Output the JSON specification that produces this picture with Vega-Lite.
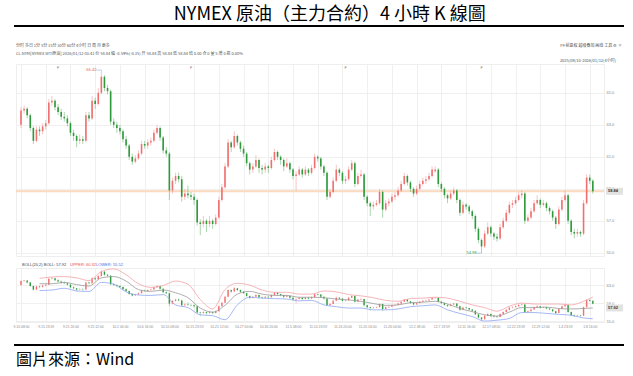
{
"$schema": "https://vega.github.io/schema/vega-lite/v6.json",
"background": "white",
"padding": {"left": 12, "top": 6, "right": 0, "bottom": 6},
"title": {"text": "NYMEX 原油（主力合約）4 小時 K 線圖", "font": "Noto Sans CJK TC", "fontSize": 18, "fontWeight": "normal", "color": "#000000", "anchor": "middle", "offset": 1, "dx": 10},
"spacing": 12,
"bounds": "flush",
"datasets": {
"k": [
{"i":0,"o":63.0,"h":64.1,"l":62.8,"c":63.9},{"i":1,"o":63.9,"h":64.2,"l":63.7,"c":64.0},{"i":2,"o":64.0,"h":64.1,"l":63.4,"c":63.6},{"i":3,"o":63.6,"h":63.7,"l":62.6,"c":62.8},{"i":4,"o":62.8,"h":62.9,"l":61.8,"c":62.0},{"i":5,"o":62.0,"h":62.9,"l":61.9,"c":62.7},{"i":6,"o":62.7,"h":62.9,"l":62.3,"c":62.6},{"i":7,"o":62.6,"h":63.1,"l":62.4,"c":62.9},{"i":8,"o":62.9,"h":63.3,"l":62.7,"c":63.1},{"i":9,"o":63.1,"h":64.6,"l":63.0,"c":64.4},
{"i":10,"o":64.4,"h":64.8,"l":64.2,"c":64.5},{"i":11,"o":64.5,"h":64.6,"l":63.9,"c":64.1},{"i":12,"o":64.1,"h":64.3,"l":63.6,"c":63.8},{"i":13,"o":63.8,"h":64.0,"l":63.3,"c":63.5},{"i":14,"o":63.5,"h":63.8,"l":63.2,"c":63.4},{"i":15,"o":63.4,"h":63.6,"l":62.9,"c":63.1},{"i":16,"o":63.1,"h":63.2,"l":62.3,"c":62.5},{"i":17,"o":62.5,"h":62.7,"l":62.0,"c":62.3},{"i":18,"o":62.3,"h":62.4,"l":61.6,"c":62.0},{"i":19,"o":62.0,"h":62.4,"l":61.8,"c":62.1},
{"i":20,"o":62.1,"h":62.3,"l":61.8,"c":62.0},{"i":21,"o":62.0,"h":63.8,"l":61.9,"c":63.6},{"i":22,"o":63.6,"h":63.8,"l":63.2,"c":63.4},{"i":23,"o":63.4,"h":64.8,"l":63.3,"c":64.5},{"i":24,"o":64.5,"h":64.7,"l":64.0,"c":64.3},{"i":25,"o":64.3,"h":65.3,"l":64.2,"c":65.0},{"i":26,"o":65.0,"h":66.42,"l":64.9,"c":66.0},{"i":27,"o":66.0,"h":66.1,"l":65.1,"c":65.3},{"i":28,"o":65.3,"h":65.5,"l":64.9,"c":65.1},{"i":29,"o":65.1,"h":65.2,"l":63.0,"c":63.2},
{"i":30,"o":63.2,"h":63.4,"l":62.8,"c":63.0},{"i":31,"o":63.0,"h":63.2,"l":62.5,"c":62.8},{"i":32,"o":62.8,"h":63.0,"l":62.4,"c":62.6},{"i":33,"o":62.6,"h":62.7,"l":61.9,"c":62.1},{"i":34,"o":62.1,"h":62.3,"l":61.5,"c":61.7},{"i":35,"o":61.7,"h":61.8,"l":60.8,"c":61.0},{"i":36,"o":61.0,"h":61.2,"l":60.5,"c":60.7},{"i":37,"o":60.7,"h":61.1,"l":60.6,"c":60.9},{"i":38,"o":60.9,"h":61.4,"l":60.8,"c":61.2},{"i":39,"o":61.2,"h":62.0,"l":61.1,"c":61.8},
{"i":40,"o":61.8,"h":62.0,"l":61.5,"c":61.7},{"i":41,"o":61.7,"h":62.1,"l":61.5,"c":61.9},{"i":42,"o":61.9,"h":62.2,"l":61.7,"c":62.0},{"i":43,"o":62.0,"h":62.7,"l":61.9,"c":62.5},{"i":44,"o":62.5,"h":63.0,"l":62.4,"c":62.8},{"i":45,"o":62.8,"h":62.9,"l":62.0,"c":62.2},{"i":46,"o":62.2,"h":62.3,"l":61.2,"c":61.4},{"i":47,"o":61.4,"h":61.6,"l":61.0,"c":61.2},{"i":48,"o":61.2,"h":61.3,"l":58.3,"c":58.9},{"i":49,"o":58.9,"h":59.7,"l":58.7,"c":59.5},
{"i":50,"o":59.5,"h":60.0,"l":59.3,"c":59.8},{"i":51,"o":59.8,"h":60.0,"l":59.4,"c":59.6},{"i":52,"o":59.6,"h":59.8,"l":58.2,"c":58.5},{"i":53,"o":58.5,"h":59.0,"l":58.3,"c":58.7},{"i":54,"o":58.7,"h":59.2,"l":58.4,"c":58.6},{"i":55,"o":58.6,"h":58.8,"l":58.3,"c":58.5},{"i":56,"o":58.5,"h":58.7,"l":58.0,"c":58.3},{"i":57,"o":58.3,"h":58.4,"l":56.7,"c":56.9},{"i":58,"o":56.9,"h":57.1,"l":56.1,"c":56.8},{"i":59,"o":56.8,"h":57.3,"l":56.6,"c":57.0},
{"i":60,"o":57.0,"h":57.1,"l":56.3,"c":56.8},{"i":61,"o":56.8,"h":57.3,"l":56.6,"c":57.0},{"i":62,"o":57.0,"h":57.1,"l":56.5,"c":56.8},{"i":63,"o":56.8,"h":57.4,"l":56.7,"c":57.2},{"i":64,"o":57.2,"h":58.5,"l":57.1,"c":58.3},{"i":65,"o":58.3,"h":59.3,"l":58.2,"c":59.1},{"i":66,"o":59.1,"h":60.6,"l":59.0,"c":60.4},{"i":67,"o":60.4,"h":62.1,"l":60.3,"c":61.9},{"i":68,"o":61.9,"h":62.0,"l":61.3,"c":61.6},{"i":69,"o":61.6,"h":62.6,"l":61.5,"c":62.3},
{"i":70,"o":62.3,"h":62.4,"l":61.7,"c":61.9},{"i":71,"o":61.9,"h":62.0,"l":61.3,"c":61.5},{"i":72,"o":61.5,"h":61.7,"l":61.0,"c":61.2},{"i":73,"o":61.2,"h":61.3,"l":60.4,"c":60.6},{"i":74,"o":60.6,"h":60.7,"l":59.9,"c":60.2},{"i":75,"o":60.2,"h":60.6,"l":60.0,"c":60.4},{"i":76,"o":60.4,"h":61.1,"l":60.3,"c":60.8},{"i":77,"o":60.8,"h":60.9,"l":60.0,"c":60.3},{"i":78,"o":60.3,"h":60.5,"l":59.9,"c":60.2},{"i":79,"o":60.2,"h":60.6,"l":60.0,"c":60.4},
{"i":80,"o":60.4,"h":60.5,"l":60.0,"c":60.3},{"i":81,"o":60.3,"h":61.0,"l":60.2,"c":60.8},{"i":82,"o":60.8,"h":61.5,"l":60.7,"c":61.3},{"i":83,"o":61.3,"h":61.4,"l":60.8,"c":61.0},{"i":84,"o":61.0,"h":61.1,"l":60.5,"c":60.8},{"i":85,"o":60.8,"h":60.9,"l":60.1,"c":60.4},{"i":86,"o":60.4,"h":60.9,"l":60.3,"c":60.6},{"i":87,"o":60.6,"h":60.7,"l":60.0,"c":60.2},{"i":88,"o":60.2,"h":60.3,"l":59.6,"c":59.8},{"i":89,"o":59.8,"h":60.1,"l":58.9,"c":59.9},
{"i":90,"o":59.9,"h":60.4,"l":59.8,"c":60.2},{"i":91,"o":60.2,"h":60.3,"l":59.7,"c":59.9},{"i":92,"o":59.9,"h":60.4,"l":59.8,"c":60.2},{"i":93,"o":60.2,"h":60.3,"l":59.8,"c":60.0},{"i":94,"o":60.0,"h":60.5,"l":59.9,"c":60.3},{"i":95,"o":60.3,"h":61.2,"l":60.2,"c":61.0},{"i":96,"o":61.0,"h":61.1,"l":60.7,"c":60.9},{"i":97,"o":60.9,"h":61.0,"l":60.2,"c":60.4},{"i":98,"o":60.4,"h":60.5,"l":59.8,"c":60.0},{"i":99,"o":60.0,"h":60.1,"l":58.3,"c":58.5},
{"i":100,"o":58.5,"h":59.0,"l":58.4,"c":58.8},{"i":101,"o":58.8,"h":59.7,"l":58.7,"c":59.5},{"i":102,"o":59.5,"h":60.5,"l":59.4,"c":60.2},{"i":103,"o":60.2,"h":60.3,"l":59.8,"c":60.0},{"i":104,"o":60.0,"h":60.1,"l":59.3,"c":59.5},{"i":105,"o":59.5,"h":59.8,"l":59.3,"c":59.6},{"i":106,"o":59.6,"h":60.4,"l":59.5,"c":60.2},{"i":107,"o":60.2,"h":60.8,"l":60.1,"c":60.6},{"i":108,"o":60.6,"h":60.7,"l":59.1,"c":59.3},{"i":109,"o":59.3,"h":60.0,"l":59.2,"c":59.8},
{"i":110,"o":59.8,"h":60.2,"l":59.7,"c":59.9},{"i":111,"o":59.9,"h":60.0,"l":58.3,"c":58.5},{"i":112,"o":58.5,"h":58.6,"l":57.9,"c":58.1},{"i":113,"o":58.1,"h":58.2,"l":57.3,"c":57.9},{"i":114,"o":57.9,"h":58.2,"l":57.7,"c":58.0},{"i":115,"o":58.0,"h":58.3,"l":57.9,"c":58.1},{"i":116,"o":58.1,"h":59.0,"l":58.0,"c":58.8},{"i":117,"o":58.8,"h":58.9,"l":57.2,"c":57.7},{"i":118,"o":57.7,"h":58.3,"l":57.6,"c":58.1},{"i":119,"o":58.1,"h":58.4,"l":57.9,"c":58.2},
{"i":120,"o":58.2,"h":58.7,"l":58.1,"c":58.5},{"i":121,"o":58.5,"h":58.8,"l":58.3,"c":58.6},{"i":122,"o":58.6,"h":59.1,"l":58.5,"c":58.9},{"i":123,"o":58.9,"h":59.5,"l":58.8,"c":59.3},{"i":124,"o":59.3,"h":60.0,"l":59.2,"c":59.8},{"i":125,"o":59.8,"h":59.9,"l":59.2,"c":59.4},{"i":126,"o":59.4,"h":59.5,"l":58.8,"c":59.0},{"i":127,"o":59.0,"h":59.1,"l":58.5,"c":58.7},{"i":128,"o":58.7,"h":59.2,"l":58.6,"c":59.0},{"i":129,"o":59.0,"h":59.5,"l":58.9,"c":59.3},
{"i":130,"o":59.3,"h":59.7,"l":59.2,"c":59.5},{"i":131,"o":59.5,"h":59.8,"l":59.3,"c":59.6},{"i":132,"o":59.6,"h":60.0,"l":59.5,"c":59.8},{"i":133,"o":59.8,"h":60.4,"l":59.7,"c":60.2},{"i":134,"o":60.1,"h":60.4,"l":60.0,"c":60.2},{"i":135,"o":60.2,"h":60.3,"l":59.1,"c":59.3},{"i":136,"o":59.3,"h":59.4,"l":58.8,"c":59.0},{"i":137,"o":59.0,"h":59.1,"l":58.4,"c":58.6},{"i":138,"o":58.6,"h":58.7,"l":58.1,"c":58.4},{"i":139,"o":58.4,"h":58.9,"l":58.3,"c":58.7},
{"i":140,"o":58.7,"h":59.1,"l":58.6,"c":58.9},{"i":141,"o":58.9,"h":59.0,"l":58.1,"c":58.3},{"i":142,"o":58.3,"h":58.4,"l":57.3,"c":57.5},{"i":143,"o":57.5,"h":58.2,"l":57.4,"c":58.0},{"i":144,"o":58.0,"h":58.1,"l":57.7,"c":57.9},{"i":145,"o":57.9,"h":58.0,"l":57.4,"c":57.6},{"i":146,"o":57.6,"h":57.7,"l":57.1,"c":57.3},{"i":147,"o":57.3,"h":57.4,"l":56.3,"c":56.5},{"i":148,"o":56.5,"h":56.6,"l":55.6,"c":55.8},{"i":149,"o":55.8,"h":55.9,"l":54.98,"c":55.4},
{"i":150,"o":55.4,"h":56.4,"l":55.3,"c":56.2},{"i":151,"o":56.2,"h":56.9,"l":56.1,"c":56.6},{"i":152,"o":56.6,"h":56.7,"l":56.0,"c":56.2},{"i":153,"o":56.2,"h":56.3,"l":55.8,"c":56.0},{"i":154,"o":56.0,"h":56.2,"l":55.7,"c":55.9},{"i":155,"o":55.9,"h":56.8,"l":55.8,"c":56.6},{"i":156,"o":56.6,"h":57.2,"l":56.5,"c":57.0},{"i":157,"o":57.0,"h":57.7,"l":56.9,"c":57.5},{"i":158,"o":57.5,"h":58.2,"l":57.4,"c":58.0},{"i":159,"o":58.0,"h":58.3,"l":57.8,"c":58.1},
{"i":160,"o":58.1,"h":58.5,"l":58.0,"c":58.3},{"i":161,"o":58.3,"h":58.8,"l":58.2,"c":58.6},{"i":162,"o":58.6,"h":58.9,"l":58.4,"c":58.7},{"i":163,"o":58.7,"h":58.8,"l":56.8,"c":57.0},{"i":164,"o":57.0,"h":57.4,"l":56.9,"c":57.2},{"i":165,"o":57.2,"h":57.8,"l":57.1,"c":57.6},{"i":166,"o":57.6,"h":58.3,"l":57.5,"c":58.1},{"i":167,"o":58.1,"h":58.6,"l":58.0,"c":58.3},{"i":168,"o":58.3,"h":58.4,"l":57.8,"c":58.0},{"i":169,"o":58.0,"h":58.3,"l":57.9,"c":58.1},
{"i":170,"o":58.1,"h":58.2,"l":57.6,"c":57.8},{"i":171,"o":57.8,"h":57.9,"l":57.4,"c":57.6},{"i":172,"o":57.6,"h":57.7,"l":57.0,"c":57.2},{"i":173,"o":57.2,"h":57.3,"l":56.5,"c":56.8},{"i":174,"o":56.8,"h":57.9,"l":56.7,"c":57.7},{"i":175,"o":57.7,"h":58.5,"l":57.6,"c":58.3},{"i":176,"o":58.3,"h":58.9,"l":58.2,"c":58.6},{"i":177,"o":58.6,"h":58.7,"l":56.8,"c":57.0},{"i":178,"o":57.0,"h":57.1,"l":56.1,"c":56.3},{"i":179,"o":56.3,"h":56.5,"l":55.9,"c":56.2},
{"i":180,"o":56.2,"h":56.5,"l":56.0,"c":56.3},{"i":181,"o":56.3,"h":56.4,"l":56.0,"c":56.2},{"i":182,"o":56.2,"h":58.3,"l":56.1,"c":58.1},{"i":183,"o":58.1,"h":59.9,"l":58.0,"c":59.7},{"i":184,"o":59.7,"h":59.9,"l":59.3,"c":59.5},{"i":185,"o":59.5,"h":59.6,"l":58.7,"c":58.84}
],
"boll": [
{"i":6,"u":64.5,"m":63.3,"lo":61.8},{"i":10,"u":64.8,"m":63.3,"lo":61.9},{"i":14,"u":64.9,"m":63.6,"lo":62.3},{"i":18,"u":64.6,"m":63.1,"lo":61.7},{"i":22,"u":64.0,"m":62.8,"lo":61.6},{"i":26,"u":66.0,"m":64.6,"lo":63.6},{"i":30,"u":66.6,"m":64.9,"lo":63.2},{"i":34,"u":65.3,"m":63.9,"lo":61.5},{"i":38,"u":63.3,"m":62.0,"lo":60.8},{"i":42,"u":62.5,"m":61.6,"lo":60.7},
{"i":46,"u":62.9,"m":61.9,"lo":60.9},{"i":50,"u":63.9,"m":61.3,"lo":58.6},{"i":54,"u":63.2,"m":60.2,"lo":58.0},{"i":58,"u":59.8,"m":57.9,"lo":56.4},{"i":62,"u":57.7,"m":57.0,"lo":56.2},{"i":66,"u":62.0,"m":58.5,"lo":55.3},{"i":70,"u":63.4,"m":61.0,"lo":58.6},{"i":74,"u":63.0,"m":61.6,"lo":60.3},{"i":78,"u":61.9,"m":61.0,"lo":60.1},{"i":82,"u":61.4,"m":60.7,"lo":60.0},
{"i":86,"u":61.4,"m":60.7,"lo":59.9},{"i":90,"u":61.0,"m":60.3,"lo":59.5},{"i":94,"u":61.0,"m":60.3,"lo":59.6},{"i":98,"u":61.7,"m":60.2,"lo":58.6},{"i":102,"u":61.5,"m":59.9,"lo":58.2},{"i":106,"u":60.9,"m":59.7,"lo":57.9},{"i":110,"u":60.6,"m":59.4,"lo":57.9},{"i":114,"u":60.2,"m":58.9,"lo":57.5},{"i":118,"u":59.6,"m":58.5,"lo":57.5},{"i":122,"u":59.4,"m":58.6,"lo":57.7},
{"i":126,"u":60.0,"m":59.1,"lo":58.2},{"i":130,"u":60.1,"m":59.2,"lo":58.4},{"i":134,"u":60.3,"m":59.4,"lo":58.6},{"i":138,"u":60.1,"m":58.8,"lo":57.5},{"i":142,"u":59.4,"m":57.8,"lo":56.7},{"i":146,"u":58.6,"m":57.1,"lo":56.0},{"i":150,"u":58.0,"m":56.4,"lo":55.0},{"i":154,"u":57.2,"m":56.1,"lo":55.2},{"i":158,"u":58.3,"m":57.0,"lo":55.6},{"i":162,"u":59.0,"m":58.0,"lo":56.9},
{"i":166,"u":58.8,"m":58.0,"lo":56.9},{"i":170,"u":58.8,"m":58.1,"lo":56.7},{"i":174,"u":58.8,"m":57.8,"lo":56.5},{"i":178,"u":58.6,"m":57.7,"lo":56.3},{"i":182,"u":59.4,"m":57.8,"lo":55.7},{"i":185,"u":60.32,"m":57.92,"lo":55.52}
],
"ext": [{"i":26,"v":66.42,"lbl":"66.42","hi":true},{"i":149,"v":54.98,"lbl":"54.98","hi":false}],
"flags": [{"i":12,"lbl":"F"},{"i":55,"lbl":"F"},{"i":105,"lbl":"F"},{"i":149,"lbl":"F"}],
"last": [{"p":58.84,"lbl":"58.84"}],
"lastb": [{"p":57.92,"lbl":"57.92"}]
},
"vconcat": [
{
"width": 588, "height": 26,
"layer": [
{"data": {"values": [{"t": ""}]}, "mark": {"type": "rule", "color": "#000000", "strokeWidth": 2}, "encoding": {"x": {"value": -2}, "x2": {"value": 608}, "y": {"value": 0}}},
{"data": {"values": [{"t": "分时   多日   1分   5分   15分   30分   60分   4小时   日   周   月   更多"}]}, "mark": {"type": "text", "x": 0, "y": 20, "align": "left", "baseline": "middle", "fontSize": 4, "color": "#555555", "font": "Noto Sans CJK SC"}, "encoding": {"text": {"field": "t"}}},
{"data": {"values": [{"t": "CL.NYM[NYMEX WTI原油]   2026/01/12 03:41   价 58.84   幅 -0.59%(-0.35)   开 58.84   高 58.84   低 58.84   结 0.00   仓 0   量 5   增 0   振 0.00%"}]}, "mark": {"type": "text", "x": 0, "y": 28, "align": "left", "baseline": "middle", "fontSize": 4, "color": "#555555", "font": "Noto Sans CJK SC"}, "encoding": {"text": {"field": "t"}}},
{"data": {"values": [{"t": "F9   前复权   超级叠加   画线   工具   ⚙   ×"}]}, "mark": {"type": "text", "x": 606, "y": 20, "align": "right", "baseline": "middle", "fontSize": 4, "color": "#555555", "font": "Noto Sans CJK SC"}, "encoding": {"text": {"field": "t"}}},
{"data": {"values": [{"t": "2025/09/10-2026/01/12(4小时)"}]}, "mark": {"type": "text", "x": 600, "y": 35, "align": "right", "baseline": "middle", "fontSize": 4, "color": "#555555", "font": "Noto Sans CJK SC"}, "encoding": {"text": {"field": "t"}}}
]
},
{
"width": 588, "height": 192,
"view": {"stroke": "#eeeeee"},
"layer": [
{"data": {"name": "last"}, "mark": {"type": "rule", "color": "#fbd9bd", "strokeWidth": 2},
 "encoding": {"y": {"field": "p", "type": "quantitative", "title": null, "scale": {"domain": [54.8, 66.8], "nice": false, "zero": false}, "axis": {"orient": "right", "values": [55, 57, 59, 61, 63, 65], "format": ".1f"}}}},
{"data": {"name": "k"}, "mark": {"type": "rule", "strokeWidth": 0.7, "opacity": 0.6},
 "encoding": {
  "x": {"field": "i", "type": "quantitative", "title": null, "scale": {"domain": [0, 187], "nice": false, "zero": false}, "axis": {"values": [0,8,16,24,32,40,48,56,64,72,80,88,96,104,112,120,128,136,144,152,160,168,176,184], "labels": false}},
  "y": {"field": "l", "type": "quantitative", "title": null, "scale": {"domain": [54.8, 66.8], "nice": false, "zero": false}, "axis": {"orient": "right", "values": [55, 57, 59, 61, 63, 65], "format": ".1f"}},
  "y2": {"field": "h"},
  "color": {"condition": {"test": "datum.c >= datum.o", "value": "#f07070"}, "value": "#2f9a3c"}}},
{"data": {"name": "k"}, "mark": {"type": "bar", "orient": "vertical", "width": 1.6},
 "encoding": {
  "x": {"field": "i", "type": "quantitative", "title": null, "scale": {"domain": [0, 187], "nice": false, "zero": false}, "axis": {"values": [0,8,16,24,32,40,48,56,64,72,80,88,96,104,112,120,128,136,144,152,160,168,176,184], "labels": false}},
  "y": {"field": "o", "type": "quantitative", "title": null, "scale": {"domain": [54.8, 66.8], "nice": false, "zero": false}, "axis": {"orient": "right", "values": [55, 57, 59, 61, 63, 65], "format": ".1f"}},
  "y2": {"field": "c"},
  "color": {"condition": {"test": "datum.c >= datum.o", "value": "#f07070"}, "value": "#2f9a3c"}}},
{"data": {"name": "ext"}, "mark": {"type": "rule", "strokeWidth": 0.6, "x2Offset": -5, "color": "#7fb0e0"},
 "encoding": {
  "x": {"field": "i", "type": "quantitative", "title": null, "scale": {"domain": [0, 187], "nice": false, "zero": false}, "axis": {"values": [0,8,16,24,32,40,48,56,64,72,80,88,96,104,112,120,128,136,144,152,160,168,176,184], "labels": false}},
  "x2": {"field": "i"},
  "y": {"field": "v", "type": "quantitative", "title": null, "scale": {"domain": [54.8, 66.8], "nice": false, "zero": false}, "axis": {"orient": "right", "values": [55, 57, 59, 61, 63, 65], "format": ".1f"}}}},
{"data": {"name": "ext"}, "mark": {"type": "text", "align": "right", "baseline": "middle", "dx": -5, "fontSize": 4, "font": "Liberation Sans"},
 "encoding": {
  "x": {"field": "i", "type": "quantitative", "title": null, "scale": {"domain": [0, 187], "nice": false, "zero": false}, "axis": {"values": [0,8,16,24,32,40,48,56,64,72,80,88,96,104,112,120,128,136,144,152,160,168,176,184], "labels": false}},
  "y": {"field": "v", "type": "quantitative", "title": null, "scale": {"domain": [54.8, 66.8], "nice": false, "zero": false}, "axis": {"orient": "right", "values": [55, 57, 59, 61, 63, 65], "format": ".1f"}},
  "text": {"field": "lbl"},
  "color": {"condition": {"test": "datum.hi", "value": "#e85a5a"}, "value": "#2f9a3c"}}},
{"data": {"name": "flags"}, "mark": {"type": "text", "baseline": "top", "fontSize": 3.5, "color": "#777777", "font": "Liberation Sans"},
 "encoding": {
  "x": {"field": "i", "type": "quantitative", "title": null, "scale": {"domain": [0, 187], "nice": false, "zero": false}, "axis": {"values": [0,8,16,24,32,40,48,56,64,72,80,88,96,104,112,120,128,136,144,152,160,168,176,184], "labels": false}},
  "y": {"datum": 66.7, "type": "quantitative", "scale": {"domain": [54.8, 66.8], "nice": false, "zero": false}, "axis": {"orient": "right", "values": [55, 57, 59, 61, 63, 65], "format": ".1f"}},
  "text": {"field": "lbl"}}},
{"data": {"name": "last"}, "mark": {"type": "rule", "color": "#e2e2e2", "strokeWidth": 7},
 "encoding": {"x": {"value": {"expr": "width + 2"}}, "x2": {"value": {"expr": "width + 19"}},
  "y": {"field": "p", "type": "quantitative", "title": null, "scale": {"domain": [54.8, 66.8], "nice": false, "zero": false}, "axis": {"orient": "right", "values": [55, 57, 59, 61, 63, 65], "format": ".1f"}}}},
{"data": {"name": "last"}, "mark": {"type": "text", "align": "left", "baseline": "middle", "fontSize": 4, "fontWeight": "bold", "color": "#333333", "font": "Liberation Sans"},
 "encoding": {"x": {"value": {"expr": "width + 4"}},
  "y": {"field": "p", "type": "quantitative", "title": null, "scale": {"domain": [54.8, 66.8], "nice": false, "zero": false}, "axis": {"orient": "right", "values": [55, 57, 59, 61, 63, 65], "format": ".1f"}},
  "text": {"field": "lbl"}}}
]
},
{
"width": 588, "height": 54,
"view": {"stroke": "#eeeeee"},
"layer": [
{"data": {"name": "k"}, "mark": {"type": "rule", "strokeWidth": 0.6, "opacity": 0.6},
 "encoding": {
  "x": {"field": "i", "type": "quantitative", "title": null, "scale": {"domain": [0, 187], "nice": false, "zero": false}, "axis": {"values": [0,8,16,24,32,40,48,56,64,72,80,88,96,104,112,120,128,136,144,152,160,168,176,184], "labelFlush": true, "labelOverlap": false, "labelFontSize": 3.4, "labelExpr": "['9.10 08:00','9.15 23:59','9.21 20:00','9.25 12:00','10.1 00:00','10.6 16:00','10.10 08:00','10.15 23:59','10.21 12:00','10.27 00:00','10.30 20:00','11.5 08:00','11.10 23:59','11.16 20:00','11.20 16:00','11.26 04:00','12.2 08:00','12.7 23:59','12.11 16:00','12.17 08:00','12.22 23:59','12.29 12:00','1.4 23:59','1.8 16:00'][round(datum.value/8)]"}},
  "y": {"field": "l", "type": "quantitative", "title": null, "scale": {"domain": [54.8, 66.8], "nice": false, "zero": false}, "axis": {"orient": "right", "values": [55, 59, 63], "format": ".1f"}},
  "y2": {"field": "h"},
  "color": {"condition": {"test": "datum.c >= datum.o", "value": "#f07070"}, "value": "#2f9a3c"}}},
{"data": {"name": "k"}, "mark": {"type": "bar", "orient": "vertical", "width": 1.4},
 "encoding": {
  "x": {"field": "i", "type": "quantitative", "title": null, "scale": {"domain": [0, 187], "nice": false, "zero": false}, "axis": {"values": [0,8,16,24,32,40,48,56,64,72,80,88,96,104,112,120,128,136,144,152,160,168,176,184], "labelFlush": true, "labelOverlap": false, "labelFontSize": 3.4, "labelExpr": "['9.10 08:00','9.15 23:59','9.21 20:00','9.25 12:00','10.1 00:00','10.6 16:00','10.10 08:00','10.15 23:59','10.21 12:00','10.27 00:00','10.30 20:00','11.5 08:00','11.10 23:59','11.16 20:00','11.20 16:00','11.26 04:00','12.2 08:00','12.7 23:59','12.11 16:00','12.17 08:00','12.22 23:59','12.29 12:00','1.4 23:59','1.8 16:00'][round(datum.value/8)]"}},
  "y": {"field": "o", "type": "quantitative", "title": null, "scale": {"domain": [54.8, 66.8], "nice": false, "zero": false}, "axis": {"orient": "right", "values": [55, 59, 63], "format": ".1f"}},
  "y2": {"field": "c"},
  "color": {"condition": {"test": "datum.c >= datum.o", "value": "#f07070"}, "value": "#2f9a3c"}}},
{"data": {"name": "boll"}, "mark": {"type": "line", "color": "#f3a2a8", "strokeWidth": 0.8, "interpolate": "monotone"},
 "encoding": {
  "x": {"field": "i", "type": "quantitative", "title": null, "scale": {"domain": [0, 187], "nice": false, "zero": false}, "axis": {"values": [0,8,16,24,32,40,48,56,64,72,80,88,96,104,112,120,128,136,144,152,160,168,176,184], "labelFlush": true, "labelOverlap": false, "labelFontSize": 3.4, "labelExpr": "['9.10 08:00','9.15 23:59','9.21 20:00','9.25 12:00','10.1 00:00','10.6 16:00','10.10 08:00','10.15 23:59','10.21 12:00','10.27 00:00','10.30 20:00','11.5 08:00','11.10 23:59','11.16 20:00','11.20 16:00','11.26 04:00','12.2 08:00','12.7 23:59','12.11 16:00','12.17 08:00','12.22 23:59','12.29 12:00','1.4 23:59','1.8 16:00'][round(datum.value/8)]"}},
  "y": {"field": "u", "type": "quantitative", "title": null, "scale": {"domain": [54.8, 66.8], "nice": false, "zero": false}, "axis": {"orient": "right", "values": [55, 59, 63], "format": ".1f"}}}},
{"data": {"name": "boll"}, "mark": {"type": "line", "color": "#999999", "strokeWidth": 0.8, "interpolate": "monotone"},
 "encoding": {
  "x": {"field": "i", "type": "quantitative", "title": null, "scale": {"domain": [0, 187], "nice": false, "zero": false}, "axis": {"values": [0,8,16,24,32,40,48,56,64,72,80,88,96,104,112,120,128,136,144,152,160,168,176,184], "labelFlush": true, "labelOverlap": false, "labelFontSize": 3.4, "labelExpr": "['9.10 08:00','9.15 23:59','9.21 20:00','9.25 12:00','10.1 00:00','10.6 16:00','10.10 08:00','10.15 23:59','10.21 12:00','10.27 00:00','10.30 20:00','11.5 08:00','11.10 23:59','11.16 20:00','11.20 16:00','11.26 04:00','12.2 08:00','12.7 23:59','12.11 16:00','12.17 08:00','12.22 23:59','12.29 12:00','1.4 23:59','1.8 16:00'][round(datum.value/8)]"}},
  "y": {"field": "m", "type": "quantitative", "title": null, "scale": {"domain": [54.8, 66.8], "nice": false, "zero": false}, "axis": {"orient": "right", "values": [55, 59, 63], "format": ".1f"}}}},
{"data": {"name": "boll"}, "mark": {"type": "line", "color": "#8ea6f2", "strokeWidth": 0.8, "interpolate": "monotone"},
 "encoding": {
  "x": {"field": "i", "type": "quantitative", "title": null, "scale": {"domain": [0, 187], "nice": false, "zero": false}, "axis": {"values": [0,8,16,24,32,40,48,56,64,72,80,88,96,104,112,120,128,136,144,152,160,168,176,184], "labelFlush": true, "labelOverlap": false, "labelFontSize": 3.4, "labelExpr": "['9.10 08:00','9.15 23:59','9.21 20:00','9.25 12:00','10.1 00:00','10.6 16:00','10.10 08:00','10.15 23:59','10.21 12:00','10.27 00:00','10.30 20:00','11.5 08:00','11.10 23:59','11.16 20:00','11.20 16:00','11.26 04:00','12.2 08:00','12.7 23:59','12.11 16:00','12.17 08:00','12.22 23:59','12.29 12:00','1.4 23:59','1.8 16:00'][round(datum.value/8)]"}},
  "y": {"field": "lo", "type": "quantitative", "title": null, "scale": {"domain": [54.8, 66.8], "nice": false, "zero": false}, "axis": {"orient": "right", "values": [55, 59, 63], "format": ".1f"}}}},
{"data": {"name": "lastb"}, "mark": {"type": "rule", "color": "#e2e2e2", "strokeWidth": 7},
 "encoding": {"x": {"value": {"expr": "width + 2"}}, "x2": {"value": {"expr": "width + 19"}},
  "y": {"field": "p", "type": "quantitative", "title": null, "scale": {"domain": [54.8, 66.8], "nice": false, "zero": false}, "axis": {"orient": "right", "values": [55, 59, 63], "format": ".1f"}}}},
{"data": {"name": "lastb"}, "mark": {"type": "text", "align": "left", "baseline": "middle", "fontSize": 4, "fontWeight": "bold", "color": "#333333", "font": "Liberation Sans"},
 "encoding": {"x": {"value": {"expr": "width + 4"}},
  "y": {"field": "p", "type": "quantitative", "title": null, "scale": {"domain": [54.8, 66.8], "nice": false, "zero": false}, "axis": {"orient": "right", "values": [55, 59, 63], "format": ".1f"}},
  "text": {"field": "lbl"}}},
{"data": {"values": [{"t": "BOLL(20,2)  BOLL: 57.92"}]}, "mark": {"type": "text", "x": 6, "y": -3, "align": "left", "baseline": "middle", "fontSize": 4, "color": "#444444", "font": "Liberation Sans"}, "encoding": {"text": {"field": "t"}}},
{"data": {"values": [{"t": "UPPER: 60.32"}]}, "mark": {"type": "text", "x": 54, "y": -3, "align": "left", "baseline": "middle", "fontSize": 4, "color": "#e84d4d", "font": "Liberation Sans"}, "encoding": {"text": {"field": "t"}}},
{"data": {"values": [{"t": "LOWER: 55.52"}]}, "mark": {"type": "text", "x": 80, "y": -3, "align": "left", "baseline": "middle", "fontSize": 4, "color": "#4a6ee0", "font": "Liberation Sans"}, "encoding": {"text": {"field": "t"}}}
]
},
{
"width": 588, "height": 30,
"layer": [
{"data": {"values": [{"t": ""}]}, "mark": {"type": "rule", "color": "#000000", "strokeWidth": 2}, "encoding": {"x": {"value": -2}, "x2": {"value": 608}, "y": {"value": 11}}},
{"data": {"values": [{"t": "圖片來源：Wind"}]}, "mark": {"type": "text", "x": 0, "y": 26, "align": "left", "baseline": "middle", "fontSize": 16, "color": "#000000", "font": "Noto Sans CJK TC"}, "encoding": {"text": {"field": "t"}}}
]
}
],
"config": {
"view": {"stroke": null},
"axis": {"domain": false, "ticks": false, "grid": true, "gridColor": "#ececec", "gridWidth": 0.8, "labelFont": "Liberation Sans", "labelFontSize": 4, "labelColor": "#8a8a8a", "labelPadding": 2, "labelOverlap": false}
}
}
